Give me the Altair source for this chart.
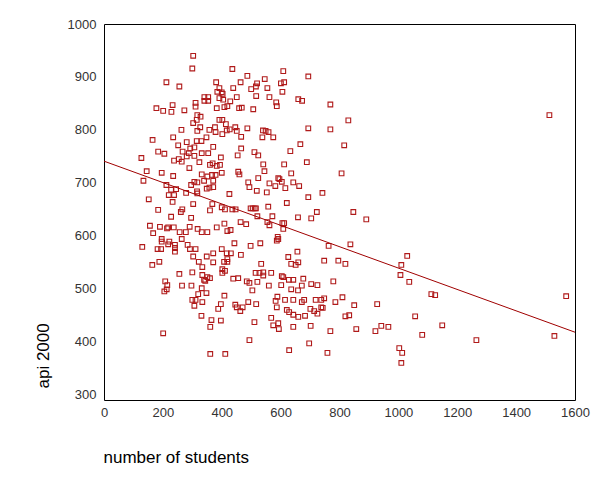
import altair as alt
import pandas as pd

# number of students (enroll) and api 2000 score
enroll = [
    303, 300, 212, 256, 381, 392, 385, 341, 354, 341, 354, 311, 392, 233, 178, 201, 229, 273, 311, 383,
    317, 328, 303, 315, 392, 327, 263, 317, 358, 377, 379, 235, 348, 165, 281, 315, 331, 252, 293, 307, 371,
    436, 487, 546, 609, 694, 464, 520, 516, 439, 500, 555, 601, 612, 606, 400, 403, 517, 562, 451, 405,
    429, 409, 419, 459, 468, 507, 585, 587, 660, 673, 769, 402, 414, 446, 427, 451, 487, 417, 402, 540,
    549, 559, 694, 769, 466, 538, 575, 667, 466,
    127, 184, 205, 238, 254, 264, 267, 281, 288, 307, 332, 354, 324, 290, 360, 369, 383, 332, 351, 367,
    379, 145, 196, 235, 134, 212, 307, 317, 296, 340, 371, 245, 228, 220, 238, 279, 316, 317, 349, 358,
    371, 152, 233, 303, 368, 184, 266, 261, 228, 296, 360, 156, 190, 214, 218, 237, 257, 278, 291, 318,
    332, 351, 383, 167, 196, 196, 222, 218, 241, 241, 241, 264, 284, 292, 311, 194, 182, 130, 303, 349, 371,
    397, 454, 511, 524, 633, 394, 541, 612, 689, 400, 456, 460, 524, 545, 636, 592, 596, 604, 562, 582,
    616, 643, 663, 490, 494, 519, 553, 426, 694, 742, 621, 400, 411, 436, 447, 498, 505, 512, 516, 558,
    723, 521, 572, 659, 704, 555, 562, 606, 612, 609, 409, 464, 483, 419, 430, 590, 592, 587, 443, 498,
    531, 763, 400, 431, 417, 465, 657, 626, 419,
    164, 188, 322, 334, 371, 256, 300, 334, 340, 344, 351, 360, 208, 215, 205, 213, 265, 297, 332, 320,
    348, 300, 311, 307, 334, 388, 331, 365, 361, 201, 361,
    408, 419, 402, 411, 402, 534, 636, 651, 660, 748, 796, 439, 456, 515, 528, 541, 541, 568, 604, 609,
    628, 643, 677, 485, 494, 521, 560, 602, 636, 659, 672, 704, 725, 779, 504, 409, 589, 397, 446, 451,
    471, 463, 490, 517, 583, 615, 643, 672, 680, 719, 738, 748, 786, 587, 621, 629, 643, 660, 683, 701,
    714, 725, 738, 743, 397, 511, 568, 575, 594, 592, 643, 702, 769, 494, 697, 629, 759, 412,
    830, 816, 807, 1513, 847, 891, 837, 820, 1030, 1010, 1007, 1037, 810, 850, 820, 833, 857, 928, 922, 942,
    966, 1112, 1125, 1057, 1081, 1149, 1265, 1003, 1013, 1010, 1570, 1530,
]
api00 = [
    940, 916, 890, 882, 890, 879, 872, 862, 862, 855, 855, 851, 860, 847, 841, 836, 834, 837, 844, 841,
    828, 825, 813, 819, 819, 805, 800, 798, 800, 805, 796, 786, 786, 781, 777, 779, 779, 771, 765, 767, 768,
    915, 902, 896, 911, 901, 890, 888, 882, 879, 877, 879, 888, 890, 872, 871, 868, 864, 862, 862, 857,
    854, 843, 845, 841, 842, 839, 852, 845, 858, 855, 848, 819, 811, 805, 801, 798, 803, 799, 792, 799,
    798, 796, 803, 801, 787, 786, 786, 773, 765,
    747, 759, 755, 742, 745, 740, 759, 750, 756, 751, 756, 756, 739, 728, 734, 737, 732, 716, 712, 715,
    715, 722, 719, 713, 704, 696, 702, 701, 696, 704, 704, 688, 687, 677, 677, 681, 684, 680, 689, 691,
    692, 669, 664, 660, 660, 649, 650, 645, 636, 634, 648, 619, 617, 614, 616, 616, 607, 607, 617, 613,
    607, 607, 616, 605, 594, 589, 589, 584, 583, 577, 570, 594, 583, 575, 575, 575, 575, 579, 561, 561, 567,
    748, 752, 758, 752, 760, 734, 735, 735, 739, 719, 721, 716, 709, 722, 718, 709, 707, 702, 699, 694,
    690, 701, 694, 701, 692, 685, 682, 679, 673, 681, 662, 654, 650, 650, 650, 652, 652, 652, 652, 655,
    645, 637, 637, 635, 633, 626, 620, 624, 624, 613, 623, 626, 622, 609, 611, 598, 594, 591, 586, 581,
    586, 581, 575, 567, 567, 564, 570, 560, 556,
    545, 551, 551, 541, 550, 528, 531, 526, 517, 515, 522, 520, 514, 507, 495, 499, 506, 506, 501, 490,
    492, 479, 479, 468, 475, 462, 449, 441, 428, 416, 377,
    551, 551, 537, 534, 530, 547, 547, 545, 550, 553, 553, 519, 520, 530, 530, 531, 525, 530, 524, 522,
    517, 517, 519, 514, 511, 513, 506, 507, 499, 497, 506, 509, 507, 514, 497, 487, 485, 471, 470, 465,
    465, 458, 475, 471, 477, 479, 479, 475, 479, 479, 479, 482, 475, 465, 460, 456, 451, 447, 449, 462,
    458, 453, 465, 464, 440, 437, 445, 431, 424, 435, 428, 430, 420, 403, 397, 384, 379, 377,
    818, 771, 718, 828, 645, 631, 584, 547, 562, 545, 526, 513, 484, 469, 448, 450, 424, 471, 420, 430,
    428, 490, 488, 448, 413, 431, 403, 388, 379, 360, 486, 411,
]

# fitted line, read at the two ends of the x range
fit_x = [0, 1600]
fit_y = [741, 418]

x_ticks = [0, 200, 400, 600, 800, 1000, 1200, 1400, 1600]
y_ticks = [300, 400, 500, 600, 700, 800, 900, 1000]

pts = pd.DataFrame({"enroll": enroll, "api00": api00})
fit = pd.DataFrame({"enroll": fit_x, "api00": fit_y})

xscale = alt.Scale(domain=[0, 1600], nice=False, zero=False)
yscale = alt.Scale(domain=[290, 1000], nice=False, zero=False)

xaxis = alt.Axis(
    title="number of students", values=x_ticks, format="d", labelFlush=False, labelOverlap=False,
    labelPadding=6, titleAnchor="start", titleAlign="left", titleBaseline="middle",
    titleX=-1, titleY=57,
)
yaxis = alt.Axis(
    title="api 2000", values=y_ticks, format="d", labelFlush=False, labelOverlap=False,
    labelPadding=8, titleAngle=-90, titleAlign="left", titleBaseline="middle",
    titleX=-61, titleY=364,
)

points = alt.Chart(pts).mark_square(
    filled=False, size=22, strokeWidth=1.1, color="#b01a1a", opacity=1
).encode(
    x=alt.X("enroll:Q", scale=xscale, axis=xaxis),
    y=alt.Y("api00:Q", scale=yscale, axis=yaxis),
)

line = alt.Chart(fit).mark_line(color="#a00000", strokeWidth=1).encode(
    x=alt.X("enroll:Q", scale=xscale),
    y=alt.Y("api00:Q", scale=yscale),
)

chart = alt.layer(points, line).properties(
    width=471, height=376,
    autosize=alt.AutoSizeParams(type="none"),
    padding={"left": 104, "top": 24, "right": 25, "bottom": 80},
    background="white",
).configure_view(
    stroke="black", strokeWidth=1
).configure_axis(
    domain=False, ticks=False, grid=False,
    labelFont="Liberation Sans", labelFontSize=13, labelColor="#333333",
    titleFont="Liberation Sans", titleFontSize=17, titleFontWeight="normal", titleColor="#000000",
)

chart.save("out.html", embed_options={"renderer": "svg", "actions": False})
